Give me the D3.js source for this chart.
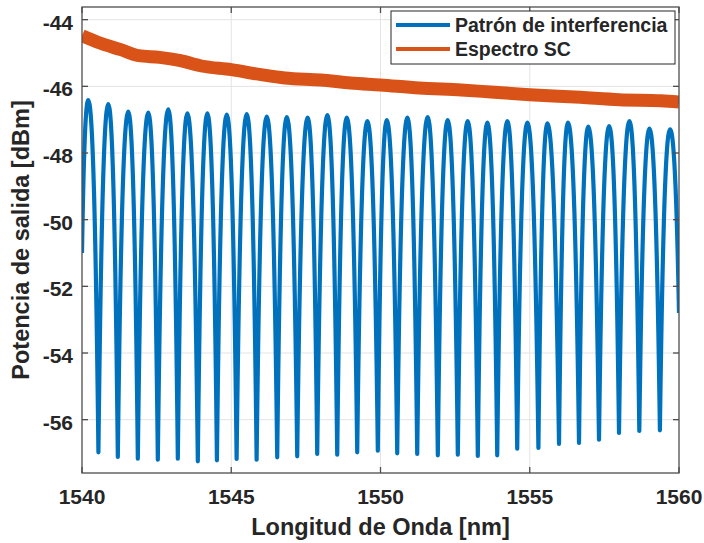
<!DOCTYPE html>
<html lang="es">
<head>
  <meta charset="UTF-8">
  <title>Patrón de interferencia</title>
  <script src="https://d3js.org/d3.v7.min.js"></script>
  <style>
    body { margin: 0; background: #fff; }
    text { font-family: "Liberation Sans", Arial, sans-serif; font-weight: bold; fill: #262626; }
  </style>
</head>
<body>
<svg id="chart" width="704" height="543"></svg>

<script>
  // Interference pattern: wavelengths [nm] and levels [dBm] of the fringe maxima / minima
  const peakNm = [1540.21, 1540.88, 1541.55, 1542.22, 1542.89, 1543.53, 1544.20, 1544.85, 1545.52, 1546.19,
                  1546.86, 1547.56, 1548.22, 1548.87, 1549.56, 1550.21, 1550.90, 1551.58, 1552.25, 1552.92,
                  1553.58, 1554.25, 1554.92, 1555.59, 1556.28, 1556.96, 1557.66, 1558.34, 1559.01, 1559.70];
  const peakDb = [-46.41, -46.53, -46.76, -46.79, -46.69, -46.81, -46.81, -46.85, -46.83, -46.91,
                  -46.92, -46.94, -46.86, -46.94, -47.04, -47.01, -46.94, -46.92, -47.01, -47.04,
                  -47.09, -47.04, -47.09, -47.11, -47.09, -47.21, -47.19, -47.04, -47.27, -47.29];
  const troughNm = [1540.55, 1541.20, 1541.87, 1542.54, 1543.21, 1543.88, 1544.52, 1545.18, 1545.85, 1546.54,
                    1547.21, 1547.88, 1548.55, 1549.22, 1549.91, 1550.56, 1551.23, 1551.92, 1552.59, 1553.26,
                    1553.91, 1554.58, 1555.29, 1555.98, 1556.65, 1557.32, 1557.99, 1558.67, 1559.36];
  const troughDb = [-56.98, -57.12, -57.17, -57.20, -57.17, -57.25, -57.22, -57.18, -57.20, -57.13,
                    -57.10, -57.03, -57.05, -56.98, -56.93, -57.01, -57.03, -57.07, -57.05, -57.09,
                    -57.07, -56.87, -56.85, -56.73, -56.70, -56.60, -56.40, -56.34, -56.32];
  // values at the two ends of the wavelength window
  const edgeNm = [1540, 1560];
  const edgeDb = [-51.0, -52.8];

  // Supercontinuum spectrum
  const scNm = [1540, 1540.6, 1541.3, 1541.9, 1542.6, 1543.3, 1544, 1545, 1546, 1546.8, 1548,
                1549, 1550, 1551.3, 1552.7, 1553.7, 1555, 1556.7, 1558, 1559.4, 1560];
  const scDb = [-44.48, -44.70, -44.90, -45.08, -45.13, -45.23, -45.39, -45.50, -45.65, -45.75, -45.81,
                -45.90, -45.96, -46.05, -46.11, -46.17, -46.25, -46.33, -46.40, -46.43, -46.47];

  const xTicks = [1540, 1545, 1550, 1555, 1560];
  const yTicks = [-56, -54, -52, -50, -48, -46, -44];
  const seriesNames = ["Patrón de interferencia", "Espectro SC"];
  const colors = ["#0072BD", "#D95319"];

  const W = 704, H = 543;
  const m = {left: 82, right: 25, top: 7, bottom: 70};
  const iw = W - m.left - m.right, ih = H - m.top - m.bottom;

  const x = d3.scaleLinear().domain([1540, 1560]).range([0, iw]);
  const y = d3.scaleLinear().domain([-57.6, -43.62]).range([ih, 0]);

  const svg = d3.select("#chart");
  const g = svg.append("g").attr("transform", `translate(${m.left},${m.top})`);

  g.append("clipPath").attr("id", "clip")
    .append("rect").attr("width", iw).attr("height", ih);

  // grid
  g.append("g").selectAll("line").data(yTicks).enter().append("line")
    .attr("x1", 0).attr("x2", iw).attr("y1", d => y(d)).attr("y2", d => y(d))
    .attr("stroke", "#e3e3e3").attr("stroke-width", 1);
  g.append("g").selectAll("line").data(xTicks.slice(1, -1)).enter().append("line")
    .attr("y1", 0).attr("y2", ih).attr("x1", d => x(d)).attr("x2", d => x(d))
    .attr("stroke", "#e3e3e3").attr("stroke-width", 1);

  // fringe curve: broad rounded maxima, narrow minima (as a dB interference pattern looks)
  function fringeCurve(context) {
    let pts = [];
    return {
      areaStart() {}, areaEnd() {},
      lineStart() { pts = []; },
      point(px, py) { pts.push([+px, +py]); },
      lineEnd() {
        context.moveTo(pts[0][0], pts[0][1]);
        for (let i = 1; i < pts.length; i++) {
          const [x0, y0] = pts[i - 1], [x1, y1] = pts[i];
          const dx = x1 - x0;
          if (y0 < y1) {
            context.bezierCurveTo(x0 + 0.5 * dx, y0, x1 - 0.2 * dx, y0 + 0.5 * (y1 - y0), x1, y1);
          } else {
            context.bezierCurveTo(x0 + 0.2 * dx, y1 + 0.5 * (y0 - y1), x1 - 0.5 * dx, y1, x1, y1);
          }
        }
      }
    };
  }

  // merge maxima and minima into one ordered series
  let fringe = [[edgeNm[0], edgeDb[0]]];
  peakNm.forEach((p, i) => {
    fringe.push([p, peakDb[i]]);
    if (i < troughNm.length) fringe.push([troughNm[i], troughDb[i]]);
  });
  fringe.push([edgeNm[1], edgeDb[1]]);

  const plot = g.append("g").attr("clip-path", "url(#clip)");

  plot.append("path")
    .datum(fringe)
    .attr("fill", "none")
    .attr("stroke", colors[0])
    .attr("stroke-width", 4.2)
    .attr("stroke-linejoin", "round")
    .attr("d", d3.line().x(d => x(d[0])).y(d => y(d[1])).curve(fringeCurve));

  plot.append("path")
    .datum(scNm.map((d, i) => [d, scDb[i]]))
    .attr("fill", "none")
    .attr("stroke", colors[1])
    .attr("stroke-width", 13)
    .attr("d", d3.line().x(d => x(d[0])).y(d => y(d[1])).curve(d3.curveMonotoneX));

  // axes box with inward ticks
  const axisColor = "#4d4d4d";
  g.append("rect").attr("width", iw).attr("height", ih)
    .attr("fill", "none").attr("stroke", axisColor).attr("stroke-width", 1.3);

  const tickLen = 6;
  xTicks.forEach(t => {
    g.append("line").attr("x1", x(t)).attr("x2", x(t)).attr("y1", ih).attr("y2", ih - tickLen)
      .attr("stroke", axisColor).attr("stroke-width", 1.3);
    g.append("line").attr("x1", x(t)).attr("x2", x(t)).attr("y1", 0).attr("y2", tickLen)
      .attr("stroke", axisColor).attr("stroke-width", 1.3);
    g.append("text").attr("x", x(t)).attr("y", ih + 31)
      .attr("text-anchor", "middle").attr("font-size", 21).text(t);
  });
  yTicks.forEach(t => {
    g.append("line").attr("x1", 0).attr("x2", tickLen).attr("y1", y(t)).attr("y2", y(t))
      .attr("stroke", axisColor).attr("stroke-width", 1.3);
    g.append("line").attr("x1", iw).attr("x2", iw - tickLen).attr("y1", y(t)).attr("y2", y(t))
      .attr("stroke", axisColor).attr("stroke-width", 1.3);
    g.append("text").attr("x", -9).attr("y", y(t) + 10)
      .attr("text-anchor", "end").attr("font-size", 21).text(t);
  });

  // axis labels
  svg.append("text").attr("x", m.left + iw / 2).attr("y", 535)
    .attr("text-anchor", "middle").attr("font-size", 23.5).text("Longitud de Onda [nm]");
  svg.append("text")
    .attr("transform", `translate(29,${m.top + ih / 2}) rotate(-90)`)
    .attr("text-anchor", "middle").attr("font-size", 23.5).text("Potencia de salida [dBm]");

  // legend
  const leg = svg.append("g").attr("transform", "translate(391,11)");
  leg.append("rect").attr("width", 284).attr("height", 53)
    .attr("fill", "#fff").attr("stroke", "#262626").attr("stroke-width", 1);
  seriesNames.forEach((name, i) => {
    const ly = 14 + i * 24;
    leg.append("line").attr("x1", 5).attr("x2", 59).attr("y1", ly).attr("y2", ly)
      .attr("stroke", colors[i]).attr("stroke-width", 3.8);
    leg.append("text").attr("x", 64).attr("y", ly + 7)
      .attr("font-size", 19.5).text(name);
  });
</script>
</body>
</html>
